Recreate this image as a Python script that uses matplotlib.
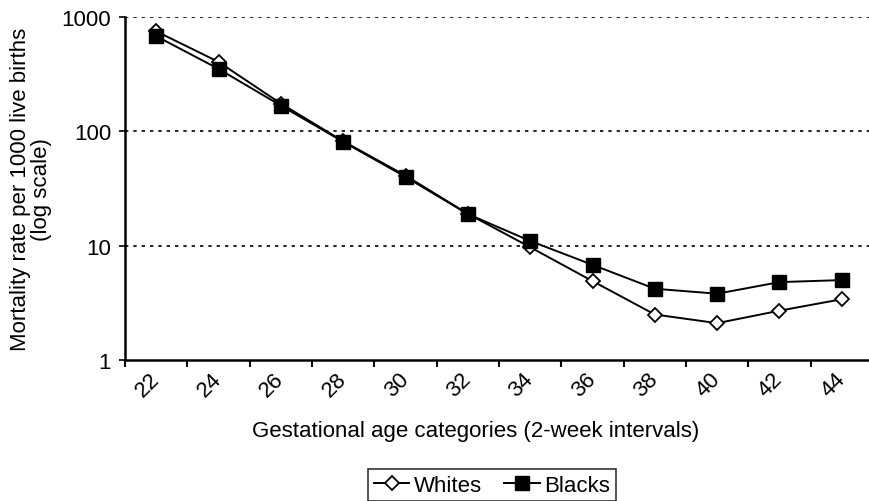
import numpy as np
import matplotlib
matplotlib.use("Agg")
import matplotlib.pyplot as plt

plt.rcParams['font.family'] = ['Liberation Sans', 'DejaVu Sans']

categories = ["22", "24", "26", "28", "30", "32", "34", "36", "38", "40", "42", "44"]
whites = [750, 405, 175, 82, 41, 19, 9.7, 4.9, 2.5, 2.1, 2.7, 3.4]
blacks = [680, 352, 168, 81, 40, 18.9, 11.0, 6.8, 4.2, 3.8, 4.8, 5.0]
grid_levels = [10, 100, 1000]


def main():
    fs = 16
    fig = plt.figure(figsize=(8.69, 5.02), dpi=100)
    ax = fig.add_axes([125 / 869, 1 - 361 / 502, 748 / 869, 343 / 502])

    x = np.arange(len(categories))
    for level in grid_levels:
        ax.axhline(level, color="black", linestyle=(0, (2, 3)), linewidth=1.2, zorder=0.5)

    ax.plot(x, whites, "k-", lw=1.4, marker="D", markersize=7.5,
            markerfacecolor="white", markeredgecolor="black", markeredgewidth=1.3,
            label="Whites")
    ax.plot(x, blacks, "k-", lw=1.4, marker="s", markersize=10,
            markerfacecolor="black", markeredgecolor="black",
            label="Blacks")

    ax.set_yscale("log")
    ax.set_ylim(1, 1000)
    ax.set_yticks([1, 10, 100, 1000])
    ax.set_yticklabels(["1", "10", "100", "1000"])
    ax.yaxis.set_minor_locator(matplotlib.ticker.NullLocator())

    ax.set_xlim(-0.5, len(categories) - 0.5)
    ax.set_xticks(np.arange(len(categories) + 1) - 0.5)
    ax.set_xticklabels([])
    ax.set_xticks(x, minor=True)
    ax.set_xticklabels(categories, minor=True, rotation=45, ha="right", va="center",
                       rotation_mode="anchor")
    ax.tick_params(axis="x", which="minor", length=0, pad=11, labelsize=fs)
    ax.tick_params(axis="x", which="major", length=5, width=1.5, direction="out")
    ax.tick_params(axis="y", length=4, width=1.2, labelsize=fs, pad=6)

    for side in ["top", "right"]:
        ax.spines[side].set_visible(False)
    ax.spines["left"].set_linewidth(1.8)
    ax.spines["bottom"].set_linewidth(1.8)

    ax.set_ylabel("Mortality rate per 1000 live births\n(log scale)", fontsize=fs,
                  linespacing=1.0)
    ax.yaxis.set_label_coords(-73 / 748, 0.5)
    fig.text(476 / 869, 1 - 432 / 502, "Gestational age categories (2-week intervals)",
             ha="center", va="center", fontsize=fs)

    leg = fig.legend(loc="upper center", bbox_to_anchor=(492 / 869, 1 - 470 / 502),
                     ncol=2, frameon=True, fancybox=False, edgecolor="black",
                     fontsize=fs, handlelength=1.6, handletextpad=0.2,
                     columnspacing=1.0, borderpad=0.25, borderaxespad=0)
    leg.get_frame().set_linewidth(1.2)

    fig.savefig("out.png", dpi=100)


if __name__ == "__main__":
    main()
